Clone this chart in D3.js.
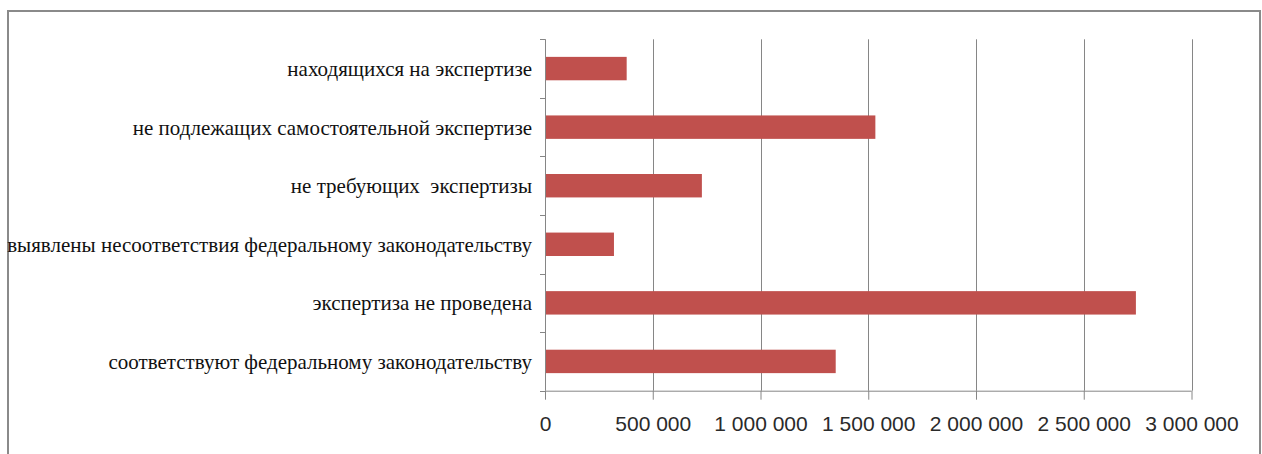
<!DOCTYPE html>
<html>
<head>
<meta charset="utf-8">
<script src="https://cdn.jsdelivr.net/npm/d3@7"></script>
<style>
  html, body { margin: 0; padding: 0; background: #fff; }
  svg { display: block; }
</style>
</head>
<body>
<svg id="chart" width="1262" height="454"></svg>
<script>
// ---- data (top to bottom as displayed) ----
const categories = [
  "находящихся на экспертизе",
  "не подлежащих самостоятельной экспертизе",
  "не требующих  экспертизы",
  "выявлены несоответствия федеральному законодательству",
  "экспертиза не проведена",
  "соответствуют федеральному законодательству"
];
const values = [379000, 1533000, 728000, 320000, 2742000, 1349000];
const xTicks = [0, 500000, 1000000, 1500000, 2000000, 2500000, 3000000];
const xMax = 3000000;

(function () {
// ---- layout ----
const svg = d3.select("#chart");
const plotLeft = 545, plotRight = 1191.5, plotTop = 39.3, plotBottom = 390.7;

// frame
svg.append("rect")
  .attr("x", 8).attr("y", 11)
  .attr("width", 1252).attr("height", 460)
  .attr("fill", "#fff")
  .attr("stroke", "#8a8a8a").attr("stroke-width", 2);

const x = d3.scaleLinear().domain([0, xMax]).range([plotLeft, plotRight]);
const y = d3.scaleBand().domain(categories).range([plotTop, plotBottom])
  .paddingInner(0.6).paddingOuter(0.3);

// gridlines
svg.append("g").selectAll("line")
  .data(xTicks.filter(d => d > 0))
  .join("line")
  .attr("x1", d => Math.round(x(d)) + 0.5).attr("x2", d => Math.round(x(d)) + 0.5)
  .attr("y1", plotTop).attr("y2", plotBottom)
  .attr("stroke", "#868686").attr("stroke-width", 1);

// bars
svg.append("g").selectAll("rect")
  .data(values)
  .join("rect")
  .attr("x", x(0))
  .attr("y", (d, i) => y(categories[i]))
  .attr("width", d => x(d) - x(0))
  .attr("height", y.bandwidth())
  .attr("fill", "#C0504D");

// x axis
const xAxis = d3.axisBottom(x)
  .tickValues(xTicks)
  .tickSize(9)
  .tickPadding(16)
  .tickFormat(d => d3.format(",")(d).replace(/,/g, "\u00a0"));
const gx = svg.append("g").attr("transform", `translate(0,${plotBottom})`).call(xAxis);
gx.select(".domain").attr("stroke", "#868686").attr("d", `M${plotLeft},0.5H${plotRight}`);
gx.selectAll(".tick line").attr("stroke", "#868686");
gx.selectAll(".tick text")
  .attr("fill", "#2a2a2a")
  .style("font-family", "'Liberation Sans', Arial, sans-serif")
  .style("font-size", "21px");

// y axis (category) with ticks at band boundaries
const step = y.step();
const boundaries = d3.range(categories.length + 1).map(i => plotTop + i * step);
svg.append("line")
  .attr("x1", plotLeft + 0.5).attr("x2", plotLeft + 0.5)
  .attr("y1", plotTop).attr("y2", plotBottom)
  .attr("stroke", "#868686");
svg.append("g").selectAll("line")
  .data(boundaries)
  .join("line")
  .attr("x1", plotLeft - 5).attr("x2", plotLeft + 0.5)
  .attr("y1", d => Math.round(d) + 0.5).attr("y2", d => Math.round(d) + 0.5)
  .attr("stroke", "#868686");

// category labels
svg.append("g").selectAll("text")
  .data(categories)
  .join("text")
  .attr("x", plotLeft - 13)
  .attr("y", d => y(d) + y.bandwidth() / 2)
  .attr("dy", "0.35em")
  .attr("text-anchor", "end")
  .attr("fill", "#111")
  .style("white-space", "pre")
  .style("font-family", "'Liberation Serif', 'Times New Roman', serif")
  .style("font-size", "21px")
  .text(d => d);
})();
</script>
</body>
</html>
